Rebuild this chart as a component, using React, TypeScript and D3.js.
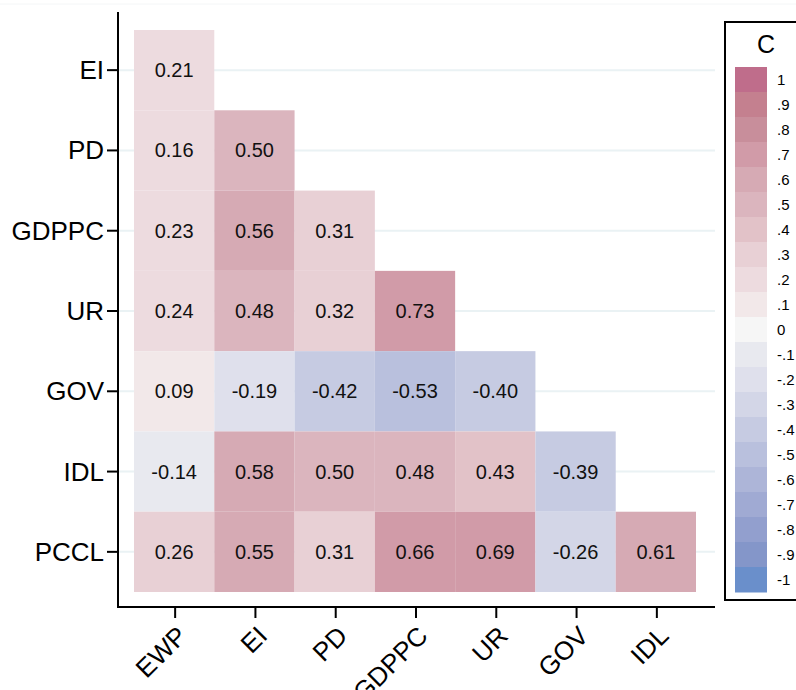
import * as d3 from "d3";

const columns = ["EWP", "EI", "PD", "GDPPC", "UR", "GOV", "IDL"];
const rows = ["EI", "PD", "GDPPC", "UR", "GOV", "IDL", "PCCL"];

// lower-triangular correlation values, one list per row
const valEI = [0.21];
const valPD = [0.16, 0.5];
const valGDPPC = [0.23, 0.56, 0.31];
const valUR = [0.24, 0.48, 0.32, 0.73];
const valGOV = [0.09, -0.19, -0.42, -0.53, -0.4];
const valIDL = [-0.14, 0.58, 0.5, 0.48, 0.43, -0.39];
const valPCCL = [0.26, 0.55, 0.31, 0.66, 0.69, -0.26, 0.61];
const rowValues = [valEI, valPD, valGDPPC, valUR, valGOV, valIDL, valPCCL];

const legendLabels = ["1", ".9", ".8", ".7", ".6", ".5", ".4", ".3", ".2", ".1", "0",
    "-.1", "-.2", "-.3", "-.4", "-.5", "-.6", "-.7", "-.8", "-.9", "-1"];
const legendColors = [
    "#bf6d8b", "#c4808f", "#c88e9b", "#d19ba8", "#d6aab4", "#dbb5be", "#e2c2c8",
    "#e8d0d5", "#eddbdf", "#f2e8e9", "#f6f6f6", "#e8e9ef", "#dfe0ec", "#d3d6e7",
    "#c6cbe2", "#b9c0dd", "#adb5d8", "#a0aad3", "#929fce", "#8496c9", "#6a8fcb"
];

const W = 796;
const H = 690;
const font = "Arial, 'Liberation Sans', sans-serif";

export default function App() {
    const x = d3.scaleBand().domain(columns).range([134, 696]);
    const y = d3.scaleBand().domain(rows).range([30, 592]);

    // bins of 0.1 width, centred on the legend values
    const color = d3.scaleThreshold<number, string>()
        .domain(d3.range(-0.95, 1, 0.1))
        .range(legendColors.slice().reverse());

    const cells = rowValues.flatMap((vals, i) =>
        vals.map((v, j) => ({ row: rows[i], col: columns[j], value: v }))
    );

    const axisLeft = 118;
    const axisBottom = 607;
    const plotRight = 715;
    const plotTop = 12;

    const legY = d3.scaleBand().domain(legendLabels).range([67, 592]);

    return (
        <svg width={W} height={H} style={{ position: "absolute", left: 0, top: 0, background: "#fff" }}
            fontFamily={font}>
            <line x1={0} x2={W} y1={4} y2={4} stroke="#f4f6f7" strokeWidth={1} />
            {rows.map(r => (
                <line key={r} x1={axisLeft} x2={plotRight}
                    y1={y(r)! + y.bandwidth() / 2} y2={y(r)! + y.bandwidth() / 2}
                    stroke="#eaf2f4" strokeWidth={2} />
            ))}

            {cells.map(c => (
                <g key={c.row + c.col}>
                    <rect x={x(c.col)} y={y(c.row)} width={x.bandwidth()} height={y.bandwidth()}
                        fill={color(c.value)} />
                    <text x={x(c.col)! + x.bandwidth() / 2} y={y(c.row)! + y.bandwidth() / 2}
                        textAnchor="middle" dominantBaseline="central" fontSize={20} fill="#111">
                        {c.value.toFixed(2)}
                    </text>
                </g>
            ))}

            {/* y axis */}
            <line x1={axisLeft} x2={axisLeft} y1={plotTop} y2={axisBottom + 1} stroke="#000" strokeWidth={2} />
            {rows.map(r => {
                const cy = y(r)! + y.bandwidth() / 2;
                return (
                    <g key={r}>
                        <line x1={axisLeft - 11} x2={axisLeft} y1={cy} y2={cy} stroke="#000" strokeWidth={2} />
                        <text x={axisLeft - 14} y={cy} textAnchor="end" dominantBaseline="central"
                            fontSize={26} fill="#000">{r}</text>
                    </g>
                );
            })}

            {/* x axis */}
            <line x1={axisLeft - 1} x2={plotRight} y1={axisBottom} y2={axisBottom} stroke="#000" strokeWidth={2} />
            {columns.map(cName => {
                const cx = x(cName)! + x.bandwidth() / 2 + 1;
                return (
                    <g key={cName}>
                        <line x1={cx} x2={cx} y1={axisBottom} y2={axisBottom + 11} stroke="#000" strokeWidth={2} />
                        <text transform={`translate(${cx + 7},${axisBottom + 24}) rotate(-45)`}
                            textAnchor="end" dominantBaseline="central" fontSize={26} fill="#000">
                            {cName}
                        </text>
                    </g>
                );
            })}

            {/* legend */}
            <rect x={725} y={22} width={90} height={578} fill="#fff" stroke="#000" strokeWidth={2} />
            <text x={766} y={44} textAnchor="middle" dominantBaseline="central" fontSize={25}>C</text>
            {legendLabels.map((l, i) => (
                <g key={l}>
                    <rect x={735} y={legY(l)} width={32} height={legY.bandwidth() + 0.5} fill={legendColors[i]} />
                    <text x={777} y={legY(l)! + legY.bandwidth() / 2} dominantBaseline="central"
                        fontSize={15} fill="#000">{l}</text>
                </g>
            ))}
        </svg>
    );
}
